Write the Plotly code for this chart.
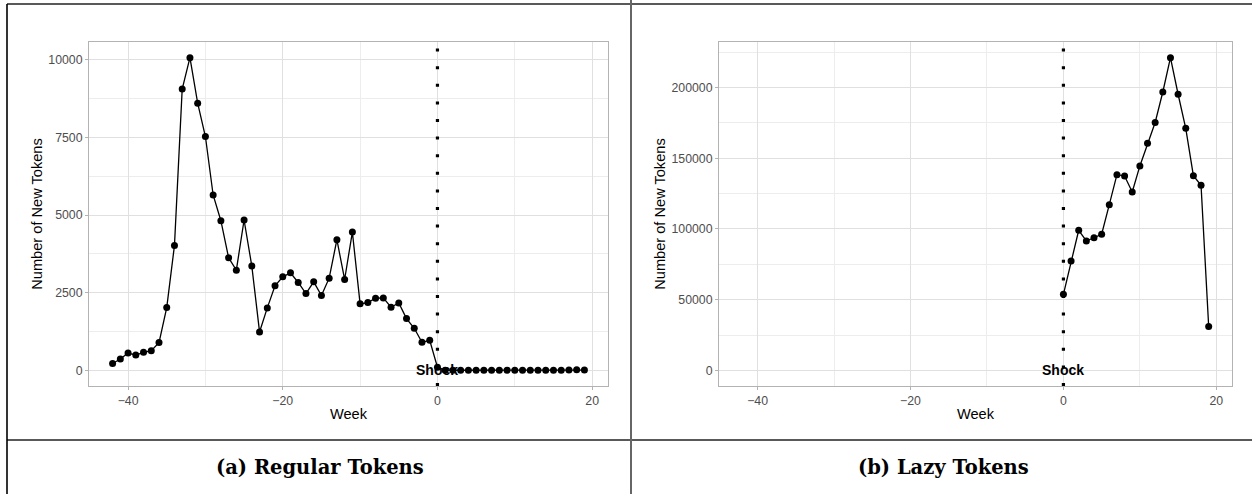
import plotly.graph_objects as go

W, H = 1252, 494

# ---------------- data ----------------
regular_weeks = list(range(-42, 20))
regular_tokens = [
    220, 365, 558, 494, 580, 635, 893, 2022, 4022, 9054,      # -42 .. -33
    10065, 8600, 7526, 5645, 4817, 3624, 3226, 4839, 3355, 1237,  # -32 .. -23
    2011, 2720, 3011, 3140, 2828, 2473, 2850, 2409, 2968, 4204,   # -22 .. -13
    2925, 4452, 2140, 2183, 2323, 2333, 2032, 2172, 1667, 1355,   # -12 .. -3
    903, 968, 100,                                                # -2 .. 0
    5, 4, 4, 3, 3, 3, 4, 3, 3, 3, 4, 4, 3, 3, 4, 6, 8, 22, 10     # 1 .. 19
]

lazy_weeks = list(range(0, 20))
lazy_tokens = [
    53800, 77300, 99100, 91500, 93800, 96300, 117200, 138400, 137500, 126200,
    144600, 160600, 175300, 196900, 221200, 195300, 171200, 137700, 130900, 31100
]

shock_week = 0
shock_label = "Shock"
captions = ["(a) Regular Tokens", "(b) Lazy Tokens"]
x_ticks = [-40, -20, 0, 20]
x_minor = [-30, -10, 10]
left_y_ticks = [0, 2500, 5000, 7500, 10000]
left_y_minor = [1250, 3750, 6250, 8750]
right_y_ticks = [0, 50000, 100000, 150000, 200000]
right_y_minor = [25000, 75000, 125000, 175000, 225000]
x_title = "Week"
y_title = "Number of New Tokens"

# ---------------- figure ----------------
fig = go.Figure()

def px_x(p):
    return p / W

def px_y(p):
    return 1 - p / H

fig.add_trace(go.Scatter(
    x=regular_weeks, y=regular_tokens, mode="lines+markers",
    line=dict(color="black", width=1.3),
    marker=dict(color="black", size=7),
    xaxis="x", yaxis="y", showlegend=False, cliponaxis=False,
))
fig.add_trace(go.Scatter(
    x=lazy_weeks, y=lazy_tokens, mode="lines+markers",
    line=dict(color="black", width=1.3),
    marker=dict(color="black", size=7),
    xaxis="x2", yaxis="y2", showlegend=False, cliponaxis=False,
))

grid_major = "#E0E0E0"
grid_minor = "#EDEDED"
tick_font = dict(family="Liberation Sans, Arial, sans-serif", size=12.3, color="#4D4D4D")
title_font = dict(family="Liberation Sans, Arial, sans-serif", size=14.6, color="black")

def xaxis_cfg(domain, anchor):
    return dict(
        domain=domain, anchor=anchor, range=[-45.05, 22.05],
        tickmode="array", tickvals=x_ticks, ticktext=[str(v).replace("-", "\u2212") for v in x_ticks],
        showgrid=True, gridcolor=grid_major, gridwidth=1.1,
        minor=dict(tickmode="array", tickvals=x_minor, showgrid=True, gridcolor=grid_minor, gridwidth=0.6, ticks=""),
        ticks="outside", ticklen=3, tickcolor="#B3B3B3", tickwidth=1,
        showline=True, linecolor="#B3B3B3", linewidth=1, mirror=True,
        zeroline=False, tickfont=tick_font,
        title=dict(text=x_title, font=title_font, standoff=2),
    )

def yaxis_cfg(domain, anchor, rng, ticks, minor):
    return dict(
        domain=domain, anchor=anchor, range=rng,
        tickmode="array", tickvals=ticks, ticktext=[str(v) for v in ticks],
        showgrid=True, gridcolor=grid_major, gridwidth=1.1,
        minor=dict(tickmode="array", tickvals=minor, showgrid=True, gridcolor=grid_minor, gridwidth=0.6, ticks=""),
        ticks="outside", ticklen=3, tickcolor="#B3B3B3", tickwidth=1,
        showline=True, linecolor="#B3B3B3", linewidth=1, mirror=True,
        zeroline=False, tickfont=tick_font,
        title=dict(text=y_title, font=title_font, standoff=2),
    )

ydom = [px_y(386), px_y(42)]
left_max = max(regular_tokens)
right_max = max(lazy_tokens)
fig.update_layout(
    xaxis=xaxis_cfg([px_x(89), px_x(608)], "y"),
    yaxis=yaxis_cfg(ydom, "x", [-0.05 * left_max, 1.05 * left_max], left_y_ticks, left_y_minor),
    xaxis2=xaxis_cfg([px_x(719), px_x(1232)], "y2"),
    yaxis2=yaxis_cfg(ydom, "x2", [-0.05 * right_max, 1.05 * right_max], right_y_ticks, right_y_minor),
)

# shock lines
for xr, yr in [("x", "y domain"), ("x2", "y2 domain")]:
    fig.add_shape(type="line", xref=xr, yref=yr, x0=shock_week, x1=shock_week, y0=0, y1=1,
                  line=dict(color="black", width=3.2, dash="3px,14.6px"), layer="above")

# shock labels
for xr, yr in [("x", "y"), ("x2", "y2")]:
    fig.add_annotation(x=shock_week, y=0, xref=xr, yref=yr, text="<b>" + shock_label + "</b>",
                       showarrow=False, xanchor="center", yanchor="middle",
                       font=dict(family="Liberation Sans, Arial, sans-serif", size=14, color="black"))

# captions
for cx, txt in zip([320, 943], captions):
    fig.add_annotation(x=px_x(cx), y=px_y(467), xref="paper", yref="paper", text="<b>" + txt + "</b>",
                       showarrow=False, xanchor="center", yanchor="middle",
                       font=dict(family="DejaVu Serif, serif", size=19.5, color="black"))

# frame lines
frame = [
    (7, 4, W, 4, "#222222", 1.6),
    (7, 440, W, 440, "#222222", 1.6),
    (7, 4, 7, H, "black", 1.6),
    (631, 0, 631, H, "#666666", 2),
]
for x0, y0, x1, y1, c, w in frame:
    fig.add_shape(type="line", xref="paper", yref="paper",
                  x0=px_x(x0), y0=px_y(y0), x1=px_x(x1), y1=px_y(y1),
                  line=dict(color=c, width=w), layer="above")

fig.update_layout(
    width=W, height=H, margin=dict(l=0, r=0, t=0, b=0),
    paper_bgcolor="white", plot_bgcolor="white", showlegend=False,
)

fig.write_html("out.html", config={"displayModeBar": False},
               post_script="document.body.style.margin='0px';document.body.style.overflow='hidden';")
